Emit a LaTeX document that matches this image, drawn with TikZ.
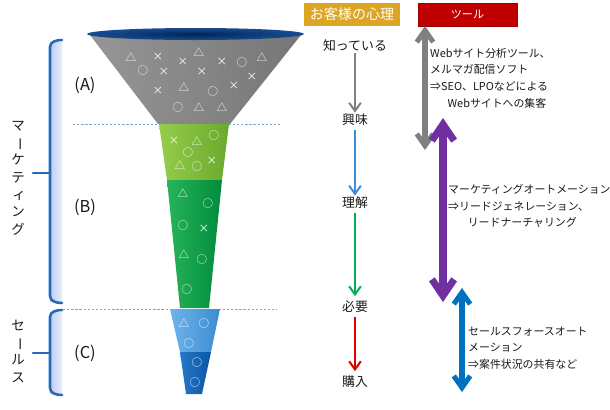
\documentclass[tikz,border=0pt]{standalone}
\usepackage{fontspec}
\setmainfont{Noto Sans CJK JP}
\usepackage{graphicx}
\usetikzlibrary{arrows.meta}
\definecolor{txt}{RGB}{25,25,25}
\definecolor{gold}{RGB}{220,165,35}
\definecolor{toolred}{RGB}{192,0,0}
\definecolor{navy}{RGB}{0,38,88}
\definecolor{navyrim}{RGB}{25,75,145}
\definecolor{braceblue}{RGB}{40,105,185}
\definecolor{stripblue}{RGB}{190,205,242}
\definecolor{dashblue}{RGB}{120,170,210}
\definecolor{coneL}{RGB}{150,150,150}
\definecolor{coneR}{RGB}{118,118,118}
\definecolor{lgreenL}{RGB}{150,205,75}
\definecolor{lgreenR}{RGB}{105,170,45}
\definecolor{dgreenL}{RGB}{40,180,90}
\definecolor{dgreenR}{RGB}{0,140,60}
\definecolor{lblueL}{RGB}{110,180,235}
\definecolor{lblueR}{RGB}{60,140,210}
\definecolor{dblueL}{RGB}{40,120,200}
\definecolor{dblueR}{RGB}{10,85,165}
\definecolor{agrey}{RGB}{128,128,128}
\definecolor{ablue}{RGB}{60,140,220}
\definecolor{agreen}{RGB}{0,176,80}
\definecolor{ared}{RGB}{220,0,0}
\definecolor{apurple}{RGB}{112,48,160}
\definecolor{abigblue}{RGB}{0,112,192}
\newcommand\tbar{\rotatebox[origin=c]{-90}{ー}}
\begin{document}
\begin{tikzpicture}[x=0.03cm,y=-0.03cm,
  sym/.style={text=white,font=\fontsize{9}{9}\selectfont,inner sep=0pt},
  stage/.style={text=txt,font=\fontsize{11}{13}\selectfont,inner sep=1pt},
  desc/.style={text=txt,font=\fontsize{9.3}{14.2}\selectfont,align=left,anchor=west,inner sep=0pt},
  abc/.style={text=txt,font=\fontsize{14}{16}\selectfont,inner sep=0pt},
  vtext/.style={text=txt,font=\fontsize{11.5}{14.8}\selectfont,align=center,inner sep=0pt},
  hbox/.style={text=white,minimum height=0.69cm,inner sep=0pt},
  small/.style={line width=1.7pt,-{Straight Barb[length=7pt,width=10pt]}},
  big/.style={line width=4.3pt,{Straight Barb[length=10pt,width=14pt]}-{Straight Barb[length=10pt,width=14pt]}},
  brace/.style={draw=braceblue,line width=2.2pt,line cap=round,line join=round},
  sep/.style={draw=dashblue,line width=0.8pt,dash pattern=on 2pt off 1.5pt}]
\useasboundingbox (0,0) rectangle (610,409);

% brace strips
\shade[left color=stripblue,right color=stripblue!35!white] (50,42) rectangle (62,301);
\shade[left color=stripblue,right color=stripblue!35!white] (50,312) rectangle (62,393);
% braces
\draw[brace] (62,40) to[out=180,in=90] (50,47) -- (50,296) to[out=-90,in=180] (62,303);
\draw[brace] (33,173) -- (50,173);
\draw[brace] (62,310) to[out=180,in=90] (50,317) -- (50,388) to[out=-90,in=180] (62,395);
\draw[brace] (33,353) -- (50,353);

% vertical labels
\node[vtext] (mkt) at (18,178) {マ\\\tbar\\ケ\\テ\\\hspace*{2pt}ィ\\ン\\グ};
\node[vtext] (sales) at (18,351) {セ\\\tbar\\ル\\ス};

% (A) (B) (C)
\node[abc] (la) at (85,85) {(A)};
\node[abc] (lb) at (85,207) {(B)};
\node[abc] (lc) at (85,353) {(C)};

% dashed separators
\draw[sep] (73,124) -- (280,124);
\draw[sep] (63,309) -- (277,309);

% funnel
\shade[left color=coneL,right color=coneR] (90,35) -- (301,35) -- (230,124) -- (158,124) -- cycle;
\shade[left color=lgreenL,right color=lgreenR] (159,124) -- (229,124) -- (222,180) -- (167,180) -- cycle;
\shade[left color=dgreenL,right color=dgreenR] (167,180) -- (222,180) -- (209,308) -- (180,308) -- cycle;
\shade[left color=lblueL,right color=lblueR] (170,309) -- (220,309) -- (211,352) -- (180,352) -- cycle;
\shade[left color=dblueL,right color=dblueR] (180,352) -- (211,352) -- (202,394) -- (186,394) -- cycle;
\shade[inner color=navy,outer color=navyrim] (195.5,34) ellipse [x radius=3.25cm,y radius=0.18cm];

% symbols
\foreach \x/\y/\s [count=\i] in {131/57/△,158/57/×,183/62/×,199/52/△,222/62/×,242/62/○,262/57/△,143/70/○,164/72/×,202/72/×,252/77/×,158/91/×,184/87/△,213/91/○,234/86/×,178/107/○,199/107/△,222/107/△,
 174/141/×,197/141/△,214/135/○,188/152/○,180/165/△,197/166/○,212/161/×,
 183/193/△,208/203/○,183/225/○,204/229/×,184/254/△,202/259/○,187/289/○,
 184/323/△,204/323/○,189/343/○,197/362/○,195/382/○}
  \node[sym] (s\i) at (\x,\y) {\s};

% header boxes
\node[hbox,fill=gold,minimum width=2.88cm,font=\fontsize{12}{14}\selectfont] (psy) at (352,14.5) {お客様の心理};
\node[hbox,fill=toolred,draw=toolred!80!black,line width=0.5pt,minimum width=2.97cm,font=\fontsize{9.5}{11}\selectfont] (tool) at (467.5,14.5) {ツール};

% stages
\node[stage] (k1) at (355,46) {知っている};
\node[stage] (k2) at (355,120) {興味};
\node[stage] (k3) at (355,203) {理解};
\node[stage] (k4) at (355,307) {必要};
\node[stage] (k5) at (355,382) {購入};
\draw[small,draw=agrey] (k1) -- (k2);
\draw[small,draw=ablue,shorten <=2pt] (k2) -- (k3);
\draw[small,draw=agreen,shorten <=2pt,shorten >=3pt] (k3) -- (k4);
\draw[small,draw=ared,shorten <=2pt,shorten >=3pt] (k4) -- (k5);

% tool arrows
\coordinate (g1) at (425,26);
\coordinate (g2) at (425,150);
\coordinate (p1) at (443,118);
\coordinate (p2) at (443,302);
\coordinate (b1) at (462,288);
\coordinate (b2) at (462,392);
\draw[big,draw=agrey] (g1) -- (g2);
\draw[line width=6pt,draw=apurple,{Straight Barb[length=14pt,width=19pt]}-{Straight Barb[length=14pt,width=19pt]}] (p1) -- (p2);
\draw[big,draw=abigblue] (b1) -- (b2);

% descriptions
\node[desc] (d1) at (430,78) {Webサイト分析ツール、\\メルマガ配信ソフト\\⇒SEO、LPOなどによる\\\hspace*{1.6em}Webサイトへの集客};
\node[desc] (d2) at (448,206) {マーケティングオートメーション\\⇒リードジェネレーション、\\\hspace*{1.8em}リードナーチャリング};
\node[desc] (d3) at (468,348) {セールスフォースオート\\メーション\\⇒案件状況の共有など};
\end{tikzpicture}
\end{document}
